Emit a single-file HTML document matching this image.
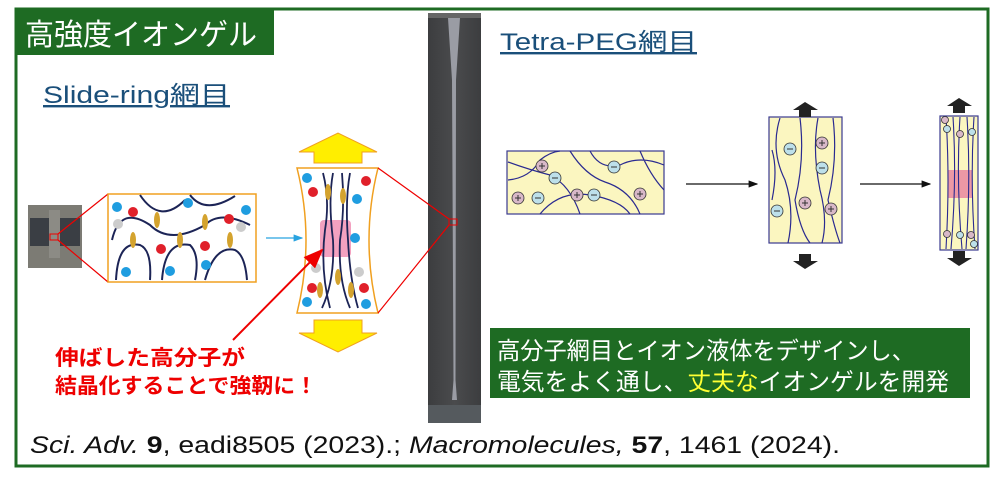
<!DOCTYPE html>
<html><head><meta charset="utf-8"><style>
body{margin:0;width:1000px;height:481px;background:#fff;overflow:hidden;font-family:"Liberation Sans","Noto Sans CJK JP",sans-serif}
svg text{font-family:"Liberation Sans","Noto Sans CJK JP",sans-serif}
</style></head><body>
<svg width="1000" height="481" viewBox="0 0 1000 481">
<defs>
<linearGradient id="gr" x1="0" x2="1"><stop offset="0" stop-color="#3c3d3f"/><stop offset="0.5" stop-color="#4a4b4d"/><stop offset="1" stop-color="#3c3d3f"/></linearGradient>
<marker id="ah" markerWidth="8" markerHeight="6" refX="7" refY="3" orient="auto"><path d="M0,0L8,3L0,6z" fill="#111"/></marker>
<marker id="ahb" markerWidth="8" markerHeight="6" refX="7" refY="3" orient="auto"><path d="M0,0L8,3L0,6z" fill="#29a3e0"/></marker>
<marker id="ahr" markerWidth="10" markerHeight="8" refX="9" refY="4" orient="auto"><path d="M0,0L10,4L0,8z" fill="#e00"/></marker>
</defs>
<rect x="16" y="9" width="972" height="457" fill="none" stroke="#1e6b23" stroke-width="3"/>
<rect x="15" y="8" width="259" height="47" fill="#1e6b23"/>
<text x="25" y="45" font-size="30" fill="#fff" textLength="232" lengthAdjust="spacingAndGlyphs">高強度イオンゲル</text>
<text x="43" y="103" font-size="24" fill="#1a4f7a" text-decoration="underline" textLength="187" lengthAdjust="spacingAndGlyphs">Slide-ring網目</text>
<text x="500" y="50" font-size="24" fill="#1a4f7a" text-decoration="underline" textLength="197" lengthAdjust="spacingAndGlyphs">Tetra-PEG網目</text>
<!-- strip photo -->
<rect x="428" y="13" width="53" height="410" fill="url(#gr)"/>
<rect x="428" y="13" width="53" height="5" fill="#666"/>
<path d="M448,18 L460,18 L456,80 L455.5,380 L457,400 L452,400 L453.5,380 L452,80z" fill="#9a9ca4"/>
<rect x="428" y="405" width="53" height="18" fill="#555a5e"/>
<rect x="449" y="219" width="8" height="6" fill="none" stroke="#e00"/>
<!-- small photo -->
<rect x="28" y="205" width="54" height="63" fill="#7c7b74"/>
<rect x="30" y="218" width="19" height="28" fill="#3a3e44"/><rect x="60" y="218" width="20" height="28" fill="#3a3e44"/>
<rect x="49" y="210" width="11" height="48" fill="#8c8b85"/>
<rect x="50" y="234" width="8" height="6" fill="none" stroke="#e00"/>
<path d="M58,234L108,194M58,240L108,282" stroke="#e00" stroke-width="1.2"/>
<!-- panel1 -->
<rect x="108" y="194" width="148" height="88" fill="#fff" stroke="#f0a020" stroke-width="1.5"/>
<g fill="none" stroke="#1c2456" stroke-width="2">
<path d="M140,195 Q160,225 185,200 M190,195 Q205,215 235,196 M112,240 Q120,205 150,225 Q170,245 205,225 Q220,210 250,225 M116,280 Q118,240 140,245 Q152,250 150,280 M162,280 Q165,240 190,245 Q200,255 195,280 M205,280 Q215,245 235,250 Q245,255 247,280"/></g>
<g fill="#d4a32e"><ellipse cx="157" cy="220" rx="3" ry="8"/><ellipse cx="205" cy="222" rx="3" ry="8"/><ellipse cx="133" cy="240" rx="3" ry="8"/><ellipse cx="180" cy="240" rx="3" ry="8"/><ellipse cx="230" cy="240" rx="3" ry="8"/></g>
<g fill="#ccc"><circle cx="118" cy="224" r="5"/><circle cx="241" cy="227" r="5"/></g>
<g fill="#1f9de0"><circle cx="117" cy="207" r="5"/><circle cx="188" cy="203" r="5"/><circle cx="246" cy="210" r="5"/><circle cx="126" cy="272" r="5"/><circle cx="170" cy="271" r="5"/><circle cx="206" cy="265" r="5"/></g>
<g fill="#e0202a"><circle cx="133" cy="212" r="5"/><circle cx="229" cy="219" r="5"/><circle cx="161" cy="249" r="5"/><circle cx="205" cy="246" r="5"/></g>
<line x1="266" y1="238" x2="302" y2="238" stroke="#29a3e0" stroke-width="1.2" marker-end="url(#ahb)"/>
<!-- yellow arrows -->
<path d="M299,152L338,133L377,152L362,152L362,163L314,163L314,152z" fill="#ffee00" stroke="#f0a020"/>
<path d="M299,333L338,352L377,333L362,333L362,320L314,320L314,333z" fill="#ffee00" stroke="#f0a020"/>
<!-- panel2 -->
<path d="M297,168L378,168Q360,240 378,313L297,313Q315,240 297,168z" fill="#fff" stroke="#f0a020" stroke-width="1.5"/>
<rect x="320" y="220" width="31" height="37" rx="4" fill="#f08ab0" opacity="0.8"/>
<g stroke="#1c2456" stroke-width="1.8" fill="none"><path d="M323,173Q330,200 325,230Q320,270 330,308M333,173Q328,200 333,240Q335,280 322,308M342,173Q345,210 340,240Q338,280 350,308M350,173Q345,200 348,240Q350,280 358,308"/></g>
<g fill="#d4a32e"><ellipse cx="328" cy="192" rx="3" ry="8"/><ellipse cx="343" cy="196" rx="3" ry="8"/><ellipse cx="320" cy="290" rx="3" ry="8"/><ellipse cx="338" cy="277" rx="3" ry="8"/><ellipse cx="351" cy="290" rx="3" ry="8"/></g>
<g fill="#ccc"><circle cx="316" cy="268" r="5"/><circle cx="359" cy="272" r="5"/></g>
<g fill="#1f9de0"><circle cx="307" cy="178" r="5"/><circle cx="357" cy="199" r="5"/><circle cx="355" cy="238" r="5"/><circle cx="307" cy="302" r="5"/><circle cx="366" cy="304" r="5"/></g>
<g fill="#e0202a"><circle cx="313" cy="192" r="5"/><circle cx="366" cy="181" r="5"/><circle cx="312" cy="288" r="5"/><circle cx="364" cy="288" r="5"/></g>
<path d="M378,168L449,219M378,313L449,225" stroke="#e00" stroke-width="1.2"/>
<line x1="233" y1="340" x2="322" y2="250" stroke="#e00" stroke-width="2" marker-end="url(#ahr)"/>
<text x="55" y="365" font-size="21" font-weight="bold" fill="#e00" textLength="190" lengthAdjust="spacingAndGlyphs">伸ばした高分子が</text>
<text x="55" y="393" font-size="21" font-weight="bold" fill="#e00" textLength="262" lengthAdjust="spacingAndGlyphs">結晶化することで強靭に！</text>
<!-- right panels -->
<rect x="507" y="151" width="157" height="63" fill="#fbf6c0" stroke="#3a3a90" stroke-width="1.2"/>
<g stroke="#2a2a90" stroke-width="1.2" fill="none"><path d="M508,162Q530,170 550,175Q570,185 580,214M508,180Q530,178 540,160Q550,152 560,151M570,151Q585,175 605,182Q630,190 640,214M590,151Q600,170 620,165Q640,155 664,165M540,214Q560,190 590,195Q620,200 630,214M640,151Q650,175 664,190"/></g>
<rect x="769" y="117" width="73" height="126" fill="#fbf6c0" stroke="#3a3a90" stroke-width="1.2"/>
<g stroke="#2a2a90" stroke-width="1.2" fill="none"><path d="M780,118Q770,150 785,180Q795,210 788,243M800,118Q805,160 795,200Q800,230 810,243M818,118Q812,150 820,190Q828,220 822,243M833,118Q838,160 828,200Q835,230 840,243M772,150Q778,170 772,200"/></g>
<rect x="940" y="116" width="38" height="134" fill="#fbf6c0" stroke="#3a3a90" stroke-width="1.2"/>
<rect x="948" y="170" width="24" height="28" fill="#e6709a" opacity="0.7"/>
<g stroke="#2a2a90" stroke-width="1.1" fill="none"><path d="M946,117Q950,180 946,249M953,117Q957,180 951,249M960,117Q956,180 962,249M967,117Q971,180 966,249M974,117Q970,180 975,249"/></g>
<g fill="#d8b8c8" stroke="#333" stroke-width="0.8"><circle cx="542" cy="166" r="6"/><circle cx="518" cy="198" r="6"/><circle cx="577" cy="195" r="6"/><circle cx="640" cy="194" r="6"/><circle cx="822" cy="143" r="6"/><circle cx="805" cy="203" r="6"/><circle cx="831" cy="209" r="6"/><circle cx="945" cy="120" r="3.5"/><circle cx="960" cy="134" r="3.5"/><circle cx="947" cy="234" r="3.5"/><circle cx="971" cy="235" r="3.5"/></g>
<g fill="#bde0ea" stroke="#333" stroke-width="0.8"><circle cx="555" cy="178" r="6"/><circle cx="538" cy="198" r="6"/><circle cx="594" cy="195" r="6"/><circle cx="614" cy="167" r="6"/><circle cx="790" cy="149" r="6"/><circle cx="822" cy="168" r="6"/><circle cx="777" cy="211" r="6"/><circle cx="947" cy="129" r="3.5"/><circle cx="972" cy="132" r="3.5"/><circle cx="960" cy="235" r="3.5"/><circle cx="974" cy="244" r="3.5"/></g>
<g stroke="#333" stroke-width="1"><path d="M539,166h6M542,163v6M515,198h6M518,195v6M574,195h6M577,192v6M637,194h6M640,191v6M819,143h6M822,140v6M802,203h6M805,200v6M828,209h6M831,206v6M552,178h6M535,198h6M591,195h6M611,167h6M787,149h6M819,168h6M774,211h6"/></g>
<line x1="686" y1="184" x2="757" y2="184" stroke="#111" stroke-width="1.2" marker-end="url(#ah)"/>
<line x1="860" y1="184" x2="930" y2="184" stroke="#111" stroke-width="1.2" marker-end="url(#ah)"/>
<g fill="#222"><path d="M793,110L805,102L818,110L811,110L811,117L799,117L799,110z"/><path d="M793,261L805,269L818,261L811,261L811,254L799,254L799,261z"/><path d="M947,106L959,98L972,106L965,106L965,113L953,113L953,106z"/><path d="M947,258L959,266L972,258L965,258L965,251L953,251L953,258z"/></g>
<!-- green box -->
<rect x="490" y="328" width="480" height="70" fill="#1e6b23"/>
<text x="497" y="359" font-size="24" fill="#fff" textLength="418" lengthAdjust="spacingAndGlyphs">高分子網目とイオン液体をデザインし、</text>
<text x="497" y="390" font-size="24" fill="#fff" textLength="452" lengthAdjust="spacingAndGlyphs">電気をよく通し、<tspan fill="#ffff33">丈夫な</tspan>イオンゲルを開発</text>
<text x="30" y="453" font-size="24" fill="#111" textLength="810" lengthAdjust="spacingAndGlyphs"><tspan font-style="italic">Sci. Adv.</tspan> <tspan font-weight="bold">9</tspan>, eadi8505 (2023).; <tspan font-style="italic">Macromolecules,</tspan> <tspan font-weight="bold">57</tspan>, 1461 (2024).</text>
</svg>
</body></html>
